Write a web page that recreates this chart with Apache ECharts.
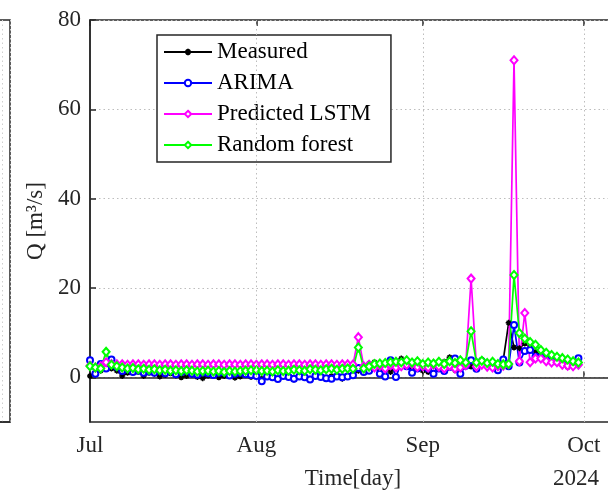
<!DOCTYPE html>
<html>
<head>
<meta charset="utf-8">
<script src="https://cdn.jsdelivr.net/npm/echarts@6/dist/echarts.min.js"></script>
<style>
html,body{margin:0;padding:0;background:#fff;}
#chart{width:608px;height:491px;}
</style>
</head>
<body>
<div id="chart"></div>
<script>
// Daily values from Jul 1 2024 (day 0) to Sep 30 2024 (day 91)
const startDate = '2024-07-01';
const measured = [
  0.3,1.2,1.5,3.2,2.0,1.5,0.3,1.0,1.5,1.2,0.3,1.0,0.8,0.2,0.5,0.9,0.4,0.0,0.3,0.6,0.1,-0.2,0.4,0.7,0.0,0.3,0.5,-0.1,0.2,0.6,0.1,
  0.2,-0.3,0.4,0.1,-0.4,0.3,0.0,-0.5,0.4,0.1,-0.3,0.5,0.0,-0.4,0.3,0.1,-0.3,0.4,0.6,1.5,2.0,3.1,3.4,1.2,2.5,1.2,3.0,4.2,2.8,2.0,3.0,
  1.5,1.2,2.5,2.8,3.5,4.5,1.6,2.6,3.5,2.4,3.0,4.0,3.2,3.6,2.6,3.9,12.2,6.7,6.5,7.6,6.7,5.7,5.0,4.6,4.0,3.6,3.0,2.3,3.0,3.2
];
const arima = [
  3.8,0.8,3.0,2.0,4.0,2.3,1.4,1.8,1.2,1.5,1.0,1.3,1.0,1.6,0.9,1.4,0.7,1.2,1.5,0.8,0.6,1.1,0.9,0.5,1.0,1.2,0.4,0.8,1.0,0.7,0.5,
  0.3,-0.9,0.2,0.0,-0.4,0.3,0.1,-0.3,0.2,0.0,-0.5,0.3,0.1,-0.2,-0.3,0.2,0.0,0.2,0.45,2.1,1.2,1.5,2.5,0.8,0.2,3.8,0.1,3.3,2.5,1.0,2.0,
  2.8,2.0,0.8,2.0,1.4,2.3,4.2,0.8,2.6,3.8,1.9,3.6,2.8,2.6,1.6,4.0,2.5,11.7,3.3,5.9,6.1,4.6,4.5,4.0,3.8,3.5,3.4,3.0,3.0,4.3
];
const lstm = [
  2.6,2.2,2.5,3.4,3.0,2.9,2.9,2.8,2.9,2.9,2.8,2.9,2.9,2.8,2.9,2.9,2.8,2.9,2.9,2.8,2.9,2.9,2.8,2.9,2.9,2.8,2.9,2.9,2.8,2.9,2.9,
  2.8,2.9,2.9,2.8,2.9,2.9,2.8,2.9,2.9,2.8,2.9,2.9,2.8,2.9,2.9,2.8,2.9,2.9,2.85,9.0,2.5,2.8,2.2,2.6,2.0,2.7,2.2,2.5,2.8,3.0,2.3,
  2.5,2.2,2.8,2.4,2.0,2.6,2.0,2.2,2.7,22.1,2.4,2.8,2.4,2.2,2.5,2.6,3.0,71.0,3.6,14.4,3.4,4.2,4.2,3.6,3.3,3.4,2.8,2.6,2.5,2.8
];
const randomForest = [
  2.5,2.2,2.0,5.7,2.8,2.5,2.2,2.0,2.1,1.8,1.9,1.7,1.8,1.6,1.7,1.5,1.6,1.4,1.6,1.5,1.3,1.4,1.5,1.3,1.4,1.2,1.4,1.3,1.4,1.5,1.6,
  1.6,1.4,1.5,1.3,1.6,1.4,1.5,1.7,1.6,1.5,1.8,1.7,1.6,1.8,1.9,1.7,1.9,2.0,1.9,6.7,2.0,2.4,3.0,3.1,3.2,3.4,3.5,3.4,3.8,3.3,3.6,
  3.0,3.3,3.1,3.5,3.0,3.6,3.2,3.8,3.3,10.3,3.3,3.7,3.2,3.5,3.0,2.9,3.0,22.9,9.9,8.7,7.9,7.3,6.1,5.5,5.0,4.6,4.3,4.0,3.6,3.3
];
const seriesNames = ['Measured','ARIMA','Predicted LSTM','Random forest'];
const monthTickDays = [0, 31, 62, 92];
const monthTickLabels = ['Jul','Aug','Sep','Oct'];
const yTickValues = [0, 20, 40, 60, 80];
const yearLabel = '2024';
const xTitle = 'Time[day]';
const yTitle = 'Q [m³/s]';

const FONT = "'Liberation Serif','Times New Roman',serif";
const AX = '#262626';
const GRIDC = '#bdbdbd';

function pts(arr){ return arr.map((v,i)=>[i,v]); }

const chart = echarts.init(document.getElementById('chart'), null, {renderer:'canvas'});
const asterisk = 'path://M5,0L5,10M0,5L10,5M1.6,1.6L8.4,8.4M1.6,8.4L8.4,1.6';

chart.setOption({
  animation:false,
  backgroundColor:'#fff',
  textStyle:{fontFamily:FONT},
  grid:[
    {left:90, top:20, width:526, height:402, outerBoundsMode:'none', containLabel:false, show:true, borderColor:AX, borderWidth:1.5, backgroundColor:'transparent'},
    {left:-200, top:20, width:210, height:402, outerBoundsMode:'none', containLabel:false, show:true, borderColor:AX, borderWidth:1.5, backgroundColor:'transparent'}
  ],
  xAxis:[
    {type:'value', gridIndex:0, min:0, max:98, position:'bottom',
     axisLine:{show:true, lineStyle:{color:AX, width:1.5}},
     axisTick:{show:true, inside:true, length:6, customValues:monthTickDays, lineStyle:{color:AX, width:1.5}},
     axisLabel:{show:true, customValues:monthTickDays, margin:12, color:AX, fontFamily:FONT, fontSize:23,
       formatter:function(v){ const i = monthTickDays.indexOf(v); return i>=0 ? monthTickLabels[i] : ''; }},
     splitLine:{show:false},
     name:xTitle, nameLocation:'middle', nameGap:45,
     nameTextStyle:{color:AX, fontFamily:FONT, fontSize:23}},
    {type:'value', gridIndex:0, min:0, max:98, position:'top',
     axisLine:{show:false},
     axisTick:{show:true, inside:true, length:6, customValues:monthTickDays, lineStyle:{color:AX, width:1.5}},
     axisLabel:{show:false}, splitLine:{show:false}},
    {type:'value', gridIndex:1, min:0, max:84, interval:81, show:true,
     axisLine:{show:true, lineStyle:{color:AX, width:1.5}}, axisTick:{show:false}, axisLabel:{show:false},
     splitLine:{show:true, lineStyle:{color:'#d0d0d0', width:1, type:[1.5,3]}}}
  ],
  yAxis:[
    {type:'value', gridIndex:0, min:-10, max:80, interval:5,
     axisLine:{show:true, lineStyle:{color:AX, width:1.5}},
     axisTick:{show:true, inside:true, length:6, customValues:yTickValues, lineStyle:{color:AX, width:1.5}},
     axisLabel:{show:true, customValues:yTickValues, margin:9, color:AX, fontFamily:FONT, fontSize:23},
     splitLine:{show:true, lineStyle:{color:GRIDC, width:1, type:[1.5,3]}},
     name:yTitle, nameLocation:'middle', nameGap:41, nameRotate:90,
     nameTextStyle:{color:AX, fontFamily:FONT, fontSize:23}},
    {type:'value', gridIndex:1, min:0, max:5, interval:1, position:'right',
     axisLine:{show:true, lineStyle:{color:AX, width:1.5}},
     axisTick:{show:true, inside:true, length:6, lineStyle:{color:AX, width:1.5}},
     axisLabel:{show:false},
     splitLine:{show:false}}
  ],
  legend:{
    show:true, orient:'vertical', left:157, top:35,
    data:seriesNames,
    backgroundColor:'#fff', borderColor:AX, borderWidth:1.5, borderRadius:0,
    padding:[5,20,5,6],
    itemWidth:48, itemHeight:8, itemGap:7,
    textStyle:{color:'#000', fontFamily:FONT, fontSize:23, lineHeight:24},
    selectedMode:false
  },
  graphic:[
    {type:'text', x:576, y:479, style:{text:yearLabel, font:"23px 'Liberation Serif'", fill:AX, align:'center', verticalAlign:'middle'}}
  ],
  series:[
    {name:seriesNames[0], type:'line', xAxisIndex:0, yAxisIndex:0, data:pts(measured),
     symbol:asterisk, symbolSize:6, showAllSymbol:true,
     lineStyle:{color:'#000', width:1.7}, itemStyle:{color:'#000', borderColor:'#000', borderWidth:1.5},
     markLine:{silent:true, symbol:'none', label:{show:false},
       lineStyle:{color:GRIDC, width:1, type:[1.5,3]},
       data:monthTickDays.slice(1).map(d=>({xAxis:d}))}},
    {name:seriesNames[1], type:'line', xAxisIndex:0, yAxisIndex:0, data:pts(arima),
     symbol:'emptyCircle', symbolSize:6, showAllSymbol:true,
     lineStyle:{color:'#0000ff', width:1.7}, itemStyle:{color:'#0000ff', borderColor:'#0000ff', borderWidth:1.5}},
    {name:seriesNames[2], type:'line', xAxisIndex:0, yAxisIndex:0, data:pts(lstm),
     symbol:'emptyDiamond', symbolSize:[7,8], showAllSymbol:true,
     lineStyle:{color:'#ff00ff', width:1.7}, itemStyle:{color:'#ff00ff', borderColor:'#ff00ff', borderWidth:1.5}},
    {name:seriesNames[3], type:'line', xAxisIndex:0, yAxisIndex:0, data:pts(randomForest),
     symbol:'emptyDiamond', symbolSize:[7,8], showAllSymbol:true,
     lineStyle:{color:'#00ff00', width:1.7}, itemStyle:{color:'#00ff00', borderColor:'#00ff00', borderWidth:1.5}}
  ]
});
</script>
</body>
</html>
